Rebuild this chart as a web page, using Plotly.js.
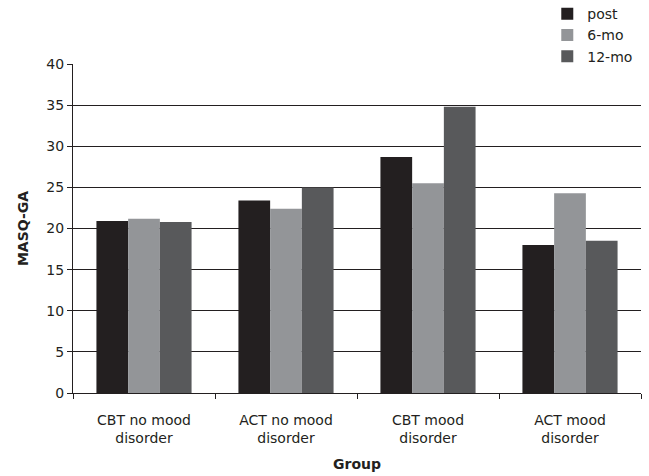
<!DOCTYPE html>
<html>
<head>
<meta charset="utf-8">
<script src="https://cdn.plot.ly/plotly-3.0.1.min.js"></script>
<style>html,body{margin:0;padding:0;background:#fff;}#chart{width:649px;height:476px;}</style>
</head>
<body>
<div id="chart"></div>
<script>
const groups = ["CBT no mood<br>disorder", "ACT no mood<br>disorder", "CBT mood<br>disorder", "ACT mood<br>disorder"];
const seriesNames = ["post", "6-mo", "12-mo"];
const postVals = [20.9, 23.4, 28.7, 18.0];
const sixMoVals = [21.2, 22.4, 25.5, 24.3];
const twelveMoVals = [20.8, 25.0, 34.8, 18.5];
const colors = ["#231f20", "#939598", "#58595b"];
const yTicks = [0, 5, 10, 15, 20, 25, 30, 35, 40];

const allVals = [postVals, sixMoVals, twelveMoVals];
const traces = allVals.map((v, i) => ({
  type: "bar",
  name: seriesNames[i],
  x: groups,
  y: v,
  marker: {color: colors[i], line: {width: 0}},
  hoverinfo: "none"
}));

const fam = "DejaVu Sans, Verdana, sans-serif";
const ink = "#231f20";

const layout = {
  width: 649, height: 476,
  margin: {l: 73, r: 8, t: 64, b: 83, pad: 0, autoexpand: false},
  paper_bgcolor: "#ffffff", plot_bgcolor: "#ffffff",
  font: {family: fam, size: 14, color: ink},
  barmode: "group",
  bargap: 0.33,
  bargroupgap: 0,
  showlegend: true,
  legend: {
    x: 0.835, y: 1.2, xanchor: "left", yanchor: "top",
    font: {family: fam, size: 14, color: ink},
    bgcolor: "rgba(0,0,0,0)", borderwidth: 0,
    itemwidth: 30, tracegroupgap: 0,
    traceorder: "normal"
  },
  xaxis: {
    type: "category",
    tickson: "boundaries",
    ticks: "outside", ticklen: 5, tickcolor: ink, tickwidth: 1,
    showline: true, linecolor: ink, linewidth: 1,
    showgrid: false, zeroline: false,
    tickfont: {family: fam, size: 14, color: ink},
    ticklabelstandoff: 14,
    title: {text: "<b>Group</b>", font: {family: fam, size: 14, color: ink}, standoff: 14},
    fixedrange: true
  },
  yaxis: {
    range: [0, 40],
    tickvals: yTicks,
    ticktext: yTicks.map(String),
    ticks: "outside", ticklen: 5, tickcolor: ink, tickwidth: 1,
    showline: true, linecolor: ink, linewidth: 1,
    showgrid: true, gridcolor: ink, gridwidth: 1,
    zeroline: false,
    tickfont: {family: fam, size: 14, color: ink},
    title: {text: "<b>MASQ-GA</b>", font: {family: fam, size: 14, color: ink}, standoff: 14},
    fixedrange: true
  }
};

Plotly.newPlot("chart", traces, layout, {displayModeBar: false, staticPlot: true});
</script>
</body>
</html>
